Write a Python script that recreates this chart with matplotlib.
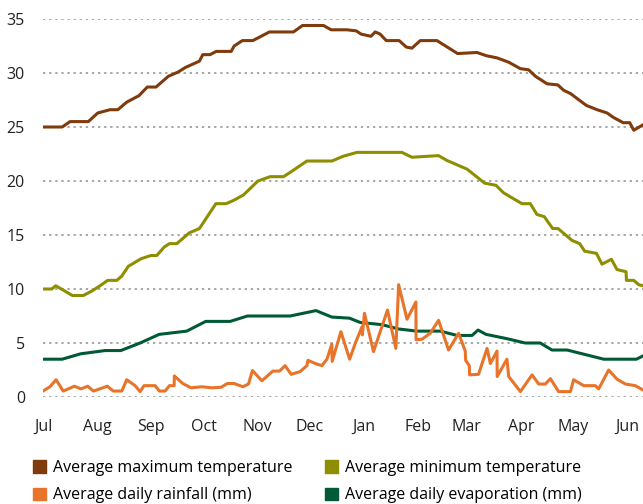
import matplotlib.pyplot as plt
from matplotlib.patches import Patch

# days since 1 July
month_labels = ["Jul", "Aug", "Sep", "Oct", "Nov", "Dec", "Jan", "Feb", "Mar", "Apr", "May", "Jun"]
month_starts = [0, 31, 62, 92, 123, 153, 184, 215, 243, 274, 304, 335]

max_day = [0, 11, 15.5, 26, 31.4, 38.4, 42.9, 48, 55, 59.8, 64.8, 71.9, 77.6, 81.5, 89.7,
           91.6, 95.8, 99.3, 107.9, 109.6, 114.3, 120.3, 129.8, 143.6, 148.8, 160.8, 165.2,
           174.2, 179.6, 182.4, 188, 190.5, 193.3, 196.8, 204.2, 208.3, 211.5, 216.3, 225.9,
           237.7, 248.8, 254.2, 260.3, 267, 273.7, 278.4, 282.3, 289, 295.1, 298.5, 302.4,
           311.5, 317.7, 323.4, 326.9, 332.6, 336.4, 338.7, 344]
max_temp = [25.0, 25.0, 25.5, 25.5, 26.3, 26.6, 26.6, 27.3, 27.9, 28.7, 28.7, 29.7, 30.1, 30.5,
            31.1, 31.7, 31.7, 32.0, 32.0, 32.5, 33.0, 33.0, 33.8, 33.8, 34.4, 34.4, 34.0, 34.0,
            33.9, 33.6, 33.4, 33.8, 33.6, 33.0, 33.0, 32.4, 32.3, 33.0, 33.0, 31.8, 31.9, 31.6,
            31.4, 31.0, 30.4, 30.3, 29.7, 29.0, 28.9, 28.4, 28.1, 27.0, 26.6, 26.3, 25.9, 25.4,
            25.4, 24.7, 25.2]

min_day = [0, 5, 7.3, 11.6, 16.8, 23.1, 27.9, 32.7, 37.1, 42.3, 45.2, 48.9, 56.2, 61.8, 65.2,
           69.6, 72.5, 76.7, 83.9, 89.7, 99.1, 105, 109.2, 114.9, 123.2, 130.2, 137.9, 141.7,
           151.3, 165.6, 172.3, 180, 205.8, 211.5, 226.8, 231.6, 243.1, 247.8, 253.2, 259.7,
           264.1, 274.6, 279.4, 283.2, 287.4, 292.2, 295.3, 303.3, 307.7, 310.6, 317.3, 320.5,
           325.9, 329.1, 334.3, 334.5, 338.7, 341.5, 344]
min_temp = [10.0, 10.0, 10.3, 9.9, 9.4, 9.4, 9.8, 10.3, 10.8, 10.8, 11.2, 12.1, 12.8, 13.1, 13.1,
            13.9, 14.2, 14.2, 15.2, 15.6, 17.9, 17.9, 18.2, 18.7, 20.0, 20.4, 20.4, 20.8, 21.85,
            21.85, 22.3, 22.65, 22.65, 22.2, 22.35, 21.9, 21.1, 20.5, 19.8, 19.6, 18.9, 17.9,
            17.9, 16.9, 16.7, 15.6, 15.6, 14.5, 14.2, 13.5, 13.3, 12.3, 12.75, 11.8, 11.6, 10.8,
            10.8, 10.4, 10.3]

rain_day = [0, 4, 7.5, 11.6, 18, 21.8, 25.6, 28.9, 36.9, 40.3, 45.2, 48, 52.8, 55.7, 57.9,
            64.3, 66.7, 70, 72.5, 75.2, 75.3, 80.1, 84.9, 91, 96.8, 102.1, 105.7, 109.6, 114.6,
            117.8, 120.1, 125.5, 131.8, 135.6, 138.8, 142.3, 147.4, 151.3, 151.9, 156.1, 159.9,
            162.8, 165.6, 165.8, 170.8, 175.8, 179.1, 182.9, 183.1, 184.3, 189.5, 197.5, 202.3,
            203.9, 208.7, 213.8, 213.9, 217.3, 222, 226.8, 232.5, 238.3, 242.1, 242.3, 244.4,
            244.6, 249.7, 254.6, 256.5, 260.3, 260.4, 266, 267, 273.7, 280.4, 284.2, 288, 290.9,
            295.6, 302.4, 304.2, 310, 316.7, 318.6, 324.3, 329.1, 333.9, 339.6, 344]
rainfall = [0.55, 0.95, 1.6, 0.55, 1.0, 0.75, 1.0, 0.55, 1.0, 0.55, 0.55, 1.6, 1.05, 0.5, 1.05,
            1.05, 0.55, 0.55, 1.05, 1.05, 1.95, 1.25, 0.85, 0.95, 0.85, 0.9, 1.25, 1.25, 0.95,
            1.2, 2.45, 1.5, 2.4, 2.4, 2.9, 2.1, 2.35, 2.9, 3.4, 3.1, 2.9, 3.5, 4.9, 3.3, 6.05,
            3.5, 5.0, 6.5, 5.75, 7.75, 4.2, 8.05, 4.5, 10.4, 7.2, 8.8, 5.3, 5.35, 5.9, 7.1, 4.35,
            5.9, 4.25, 3.4, 2.9, 2.05, 2.1, 4.5, 3.1, 4.25, 1.9, 3.5, 1.9, 0.5, 2.05, 1.2, 1.2,
            1.7, 0.5, 0.5, 1.6, 1.05, 1.05, 0.75, 2.5, 1.65, 1.2, 1.05, 0.65]

evap_day = [0, 11, 21.6, 35.6, 44.6, 55.7, 66.6, 82.4, 93.3, 107.3, 117.2, 141.7, 156.5, 165.6,
            175.7, 181.9, 194.3, 203.8, 214.4, 227.8, 237.3, 246, 249.4, 254, 266, 276.5, 285.1,
            291.8, 300.5, 321.5, 340.2, 344]
evaporation = [3.5, 3.5, 4.0, 4.3, 4.3, 5.0, 5.8, 6.1, 7.0, 7.0, 7.5, 7.5, 8.0, 7.4, 7.3, 6.9,
               6.7, 6.3, 6.1, 6.1, 5.7, 5.7, 6.2, 5.8, 5.4, 5.0, 5.0, 4.35, 4.35, 3.5, 3.5, 3.8]

colors = {
    "max": "#7f3b0c",
    "min": "#8e8e00",
    "rain": "#e8742a",
    "evap": "#005a36",
}

plt.rcParams["font.family"] = ["Open Sans", "DejaVu Sans"]
plt.rcParams["font.size"] = 11.5

fig = plt.figure(figsize=(6.43, 5.04), dpi=100)
ax = fig.add_axes([43 / 643, 107 / 504, 600 / 643, 378 / 504])

for y in range(0, 40, 5):
    ax.axhline(y, color="#8f8f8f", lw=1.1, linestyle=(0, (1.5, 2.5)), zorder=0)

lw = 2.2
ax.plot(max_day, max_temp, color=colors["max"], lw=lw)
ax.plot(min_day, min_temp, color=colors["min"], lw=lw)
ax.plot(evap_day, evaporation, color=colors["evap"], lw=lw)
ax.plot(rain_day, rainfall, color=colors["rain"], lw=lw)

ax.set_xlim(0, 344)
ax.set_ylim(0, 35)
ax.set_yticks(range(0, 40, 5))
ax.set_xticks(month_starts)
ax.set_xticklabels(month_labels)
ax.tick_params(length=0, colors="#222222")
ax.tick_params(axis="y", pad=13)
ax.tick_params(axis="x", pad=16)
for s in ax.spines.values():
    s.set_visible(False)

# legend fills column-wise, so order gives rows: max/min, rain/evap
handles = [
    Patch(color=colors["max"], label="Average maximum temperature"),
    Patch(color=colors["rain"], label="Average daily rainfall (mm)"),
    Patch(color=colors["min"], label="Average minimum temperature"),
    Patch(color=colors["evap"], label="Average daily evaporation (mm)"),
]
fig.legend(handles=handles, ncol=2, loc="upper left", bbox_to_anchor=(33 / 643, 1 - 460 / 504),
           frameon=False, handlelength=0.8, handleheight=0.8, handletextpad=0.45,
           columnspacing=2.05, labelspacing=0.7, borderpad=0, borderaxespad=0)

fig.savefig("out.png", dpi=100)
